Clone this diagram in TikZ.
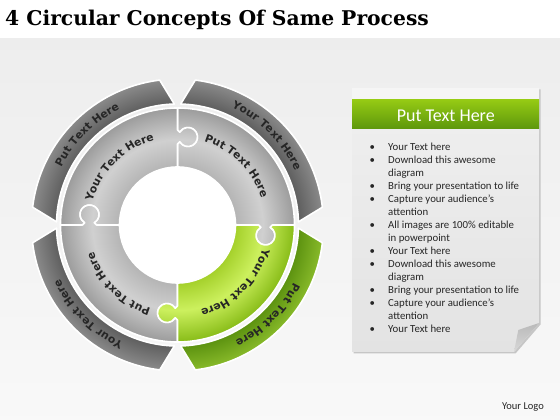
\documentclass[tikz,border=0pt]{standalone}
\usepackage{fontspec}
\usetikzlibrary{decorations.text}
\setmainfont{Carlito}
\newfontfamily\titlefamily{DejaVu Serif}
\newfontfamily\arcfamily{DejaVu Sans}
\newcommand\arcfont{\arcfamily\bfseries\fontsize{10.8}{12}\selectfont}

\definecolor{igA}{HTML}{B4B4B4}
\definecolor{igB}{HTML}{D0D0D0}
\definecolor{igC}{HTML}{9C9C9C}
\definecolor{ogA}{HTML}{5E5E5E}
\definecolor{ogB}{HTML}{8A8A8A}
\definecolor{ggA}{HTML}{A4D02A}
\definecolor{ggB}{HTML}{CCF05E}
\definecolor{ggC}{HTML}{88BC18}
\definecolor{goA}{HTML}{5C9210}
\definecolor{goB}{HTML}{88BA2A}
\definecolor{headtop}{HTML}{96CB14}
\definecolor{headbot}{HTML}{5E980C}
\definecolor{bodytext}{HTML}{262626}

% radius 146 of the shaded circle sits at 25bp
\pgfdeclareradialshading{piecegray}{\pgfpoint{0bp}{0bp}}{color(0bp)=(igA); color(9.9bp)=(igA); color(14.6bp)=(igB); color(20bp)=(igC); color(20.7bp)=(ogA); color(25bp)=(ogB); color(50bp)=(ogB)}
\pgfdeclareradialshading{piecegreen}{\pgfpoint{0bp}{0bp}}{color(0bp)=(ggA); color(9.9bp)=(ggA); color(14.6bp)=(ggB); color(20bp)=(ggC); color(20.7bp)=(goA); color(25bp)=(goB); color(50bp)=(goB)}

% one quarter of the ring, drawn for the 0..90 quadrant
\def\innerpiece{(58,0) -- (81,0) -- (83.25,-2.27) arc[start angle=120,end angle=420,radius=9.5] -- (95,0) -- (117,0) arc[start angle=0,end angle=90,radius=117] -- (0,95) -- (2.27,92.75) arc[start angle=150,end angle=-150,radius=9.5] -- (0,81) -- (0,58) arc[start angle=90,end angle=0,radius=58] -- cycle}
\def\outerpiece{(1.5:121) -- (7:146) arc[start angle=7,end angle=83,radius=146] -- (88.5:121) arc[start angle=88.5,end angle=1.5,radius=121] -- cycle}

\tikzset{
  piece edge/.style={draw=white, line width=1.6pt, line join=round},
  arc label/.style={decorate, decoration={text along path, text align=center, text color=bodytext}}
}

\begin{document}
\begin{tikzpicture}[x=1pt,y=1pt]
  \useasboundingbox (0,0) rectangle (560,420);
  \shade[top color=gray!14, bottom color=gray!5] (0,0) rectangle (560,382);
  \fill[white] (0,382) rectangle (560,420);

  \node[anchor=base west, inner sep=0, font=\titlefamily\bfseries\fontsize{20.3}{24}\selectfont] (title) at (5,394) {4 Circular Concepts Of Same Process};

  \coordinate (ctr) at (177.5,195);
  \fill[white] (ctr) circle (58);

  \foreach \rot/\shd in {0/piecegray,90/piecegray,180/piecegray,270/piecegreen}{
    \begin{scope}[shift={(ctr)},rotate=\rot]
      \begin{scope}
        \clip \outerpiece;
        \shade[shading=\shd] (0,0) circle (146);
      \end{scope}
      \begin{scope}
        \clip \innerpiece;
        \shade[shading=\shd] (0,0) circle (146);
      \end{scope}
      \draw[piece edge] \outerpiece;
      \draw[piece edge] \innerpiece;
    \end{scope}
  }

  \foreach \a/\outtxt/\intxt in {180/Put Text Here/Your Text Here, 90/Your Text Here/Put Text Here, 0/Put Text Here/Your Text Here, -90/Your Text Here/Put Text Here}{
    \path[shift={(ctr)}, arc label, decoration={text/.expanded={|\noexpand\arcfont|\outtxt}}]
      (\a:129.5) arc[start angle=\a, end angle=\a-90, radius=129.5];
    \path[shift={(ctr)}, arc label, decoration={text/.expanded={|\noexpand\arcfont|\intxt}}]
      (\a:88) arc[start angle=\a, end angle=\a-90, radius=88];
  }

  % note panel
  \fill[gray!45] (353.5,330.5) -- (540.5,330.5) -- (540.5,95.5) -- (515.5,66.5) -- (353.5,66.5) -- cycle;
  \shade[top color=gray!12, bottom color=gray!22] (352,332) -- (539,332) -- (539,97) -- (514,68) -- (352,68) -- cycle;
  \fill[gray!8] (352,320.7) rectangle (539,332);
  \shade[top color=headtop, bottom color=headbot] (352,291.7) rectangle (539,320.7);
  \shade[top color=gray!55, bottom color=gray!30] (539,97) -- (518.3,90) -- (514,68) -- cycle;

  \node[anchor=base, inner sep=0, text=white, font=\fontsize{18}{20}\selectfont] (panelhead) at (445.8,298.5) {Put Text Here};

  \node[anchor=north west, inner sep=0, text=bodytext, font=\fontsize{10.8}{13}\selectfont] (bullets) at (369.5,279.1) {%
    \begin{tabular}{@{}p{18.5pt}@{}l@{}}
      \textbullet & Your Text here\\
      \textbullet & Download this awesome\\
                  & diagram\\
      \textbullet & Bring your presentation to life\\
      \textbullet & Capture your audience’s\\
                  & attention\\
      \textbullet & All images are 100\% editable\\
                  & in powerpoint\\
      \textbullet & Your Text here\\
      \textbullet & Download this awesome\\
                  & diagram\\
      \textbullet & Bring your presentation to life\\
      \textbullet & Capture your audience’s\\
                  & attention\\
      \textbullet & Your Text here
    \end{tabular}};

  \node[anchor=base, inner sep=0, text=bodytext, font=\fontsize{10.5}{12}\selectfont] (logo) at (523,10) {Your Logo};
\end{tikzpicture}
\end{document}
